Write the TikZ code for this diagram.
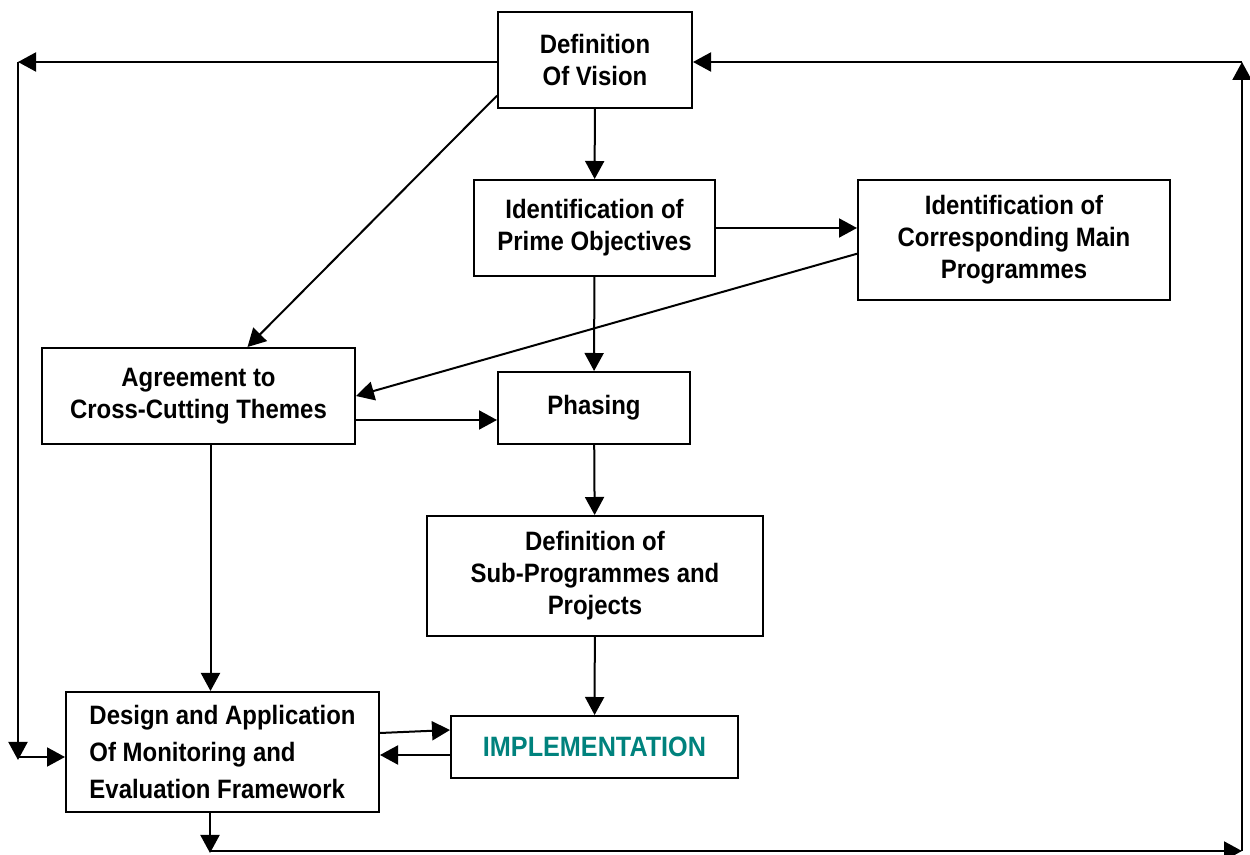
\documentclass[tikz,border=0pt]{standalone}
\usepackage{fontspec}
\setmainfont{Liberation Sans}[FakeStretch=0.9]
\usetikzlibrary{arrows.meta}
\usetikzlibrary{calc}
\usetikzlibrary{positioning}
\definecolor{tealgreen}{rgb}{0.0,0.51,0.49}
\tikzset{
    kasten/.style={draw, line width=1pt, align=center, inner sep=2pt,
        font=\bfseries\fontsize{13.3}{16}\selectfont},
    pfeil/.style={line width=1pt, -{Triangle[length=9pt,width=9.5pt]}}
}

\begin{document}
\begin{tikzpicture}[x=0.5pt,y=-0.5pt] % Pixel-Koordinaten, y nach unten
    \useasboundingbox (0,0) rectangle (1250,855);
    % Kästen
    \node[kasten, minimum width=97pt, minimum height=48pt] (vision) at (595,60) {Definition\\Of Vision};
    \node[kasten, minimum width=120.5pt, minimum height=48pt] (prime) at (594.5,228) {Identification of\\Prime Objectives};
    \node[kasten, minimum width=156pt, minimum height=60pt] (corr) at (1014,240) {Identification of\\Corresponding Main\\Programmes};
    \node[kasten, minimum width=156.5pt, minimum height=48pt] (agree) at (198.5,396) {Agreement to\\Cross-Cutting Themes};
    \node[kasten, minimum width=96pt, minimum height=36pt] (phasing) at (594,408) {Phasing};
    \node[kasten, minimum width=168pt, minimum height=60pt] (sub) at (595,576) {Definition of\\Sub-Programmes and\\Projects};
    \node[kasten, minimum width=156.5pt, minimum height=60pt, align=left,
        font=\bfseries\fontsize{13.3}{18.5}\selectfont] (design) at (222.5,752) {Design and Application\\Of Monitoring and\\Evaluation Framework};
    \node[kasten, minimum width=143.5pt, minimum height=31pt, text=tealgreen,
        font=\bfseries\fontsize{14}{17}\selectfont] (impl) at (594.5,747) {IMPLEMENTATION};
    % Hilfspunkte für den äußeren Rahmen
    \coordinate (lo) at (18,62);
    \coordinate (lu) at (18,760);
    \coordinate (mu) at (210,853);
    \coordinate (ru) at (1242,851);
    \coordinate (ro) at (1242,62);
    % Pfeile zwischen den Kästen
    \draw[pfeil] (vision) -- (prime);
    \draw[pfeil] (vision.200) -- (agree.45);
    \draw[pfeil] (prime.east) -- (corr.west |- prime.east);
    \draw[pfeil] (corr.185) -- (agree.east);
    \draw[pfeil] (prime) -- (phasing);
    \draw[pfeil] ($(agree.east)+(0,24)$) -- (phasing.west |- {$(agree.east)+(0,24)$});
    \draw[pfeil] (phasing) -- (sub);
    \draw[pfeil] ($(agree.south)+(12,0)$) coordinate (a) -- (a |- design.north);
    \draw[pfeil] (sub) -- (impl);
    \draw[pfeil] ($(design.east)+(0,-19)$) -- ($(impl.west)+(0,-17)$);
    \draw[pfeil] ($(impl.west)+(0,8)$) -- ($(design.east)+(0,3)$);
    % äußerer Rahmen
    \draw[pfeil] (vision.west |- lo) -- (lo);
    \draw[pfeil] (lo) -- (lu);
    \draw[pfeil] ($(lu)+(0,-3)$) -- (design.west |- {$(lu)+(0,-3)$});
    \draw[pfeil] (design.south -| mu) -- (mu);
    \draw[pfeil] ($(mu)+(0,-2)$) -- (ru);
    \draw[pfeil] (ru) -- (ro);
    \draw[pfeil] (ro) -- (vision.east |- ro);
\end{tikzpicture}
\end{document}
